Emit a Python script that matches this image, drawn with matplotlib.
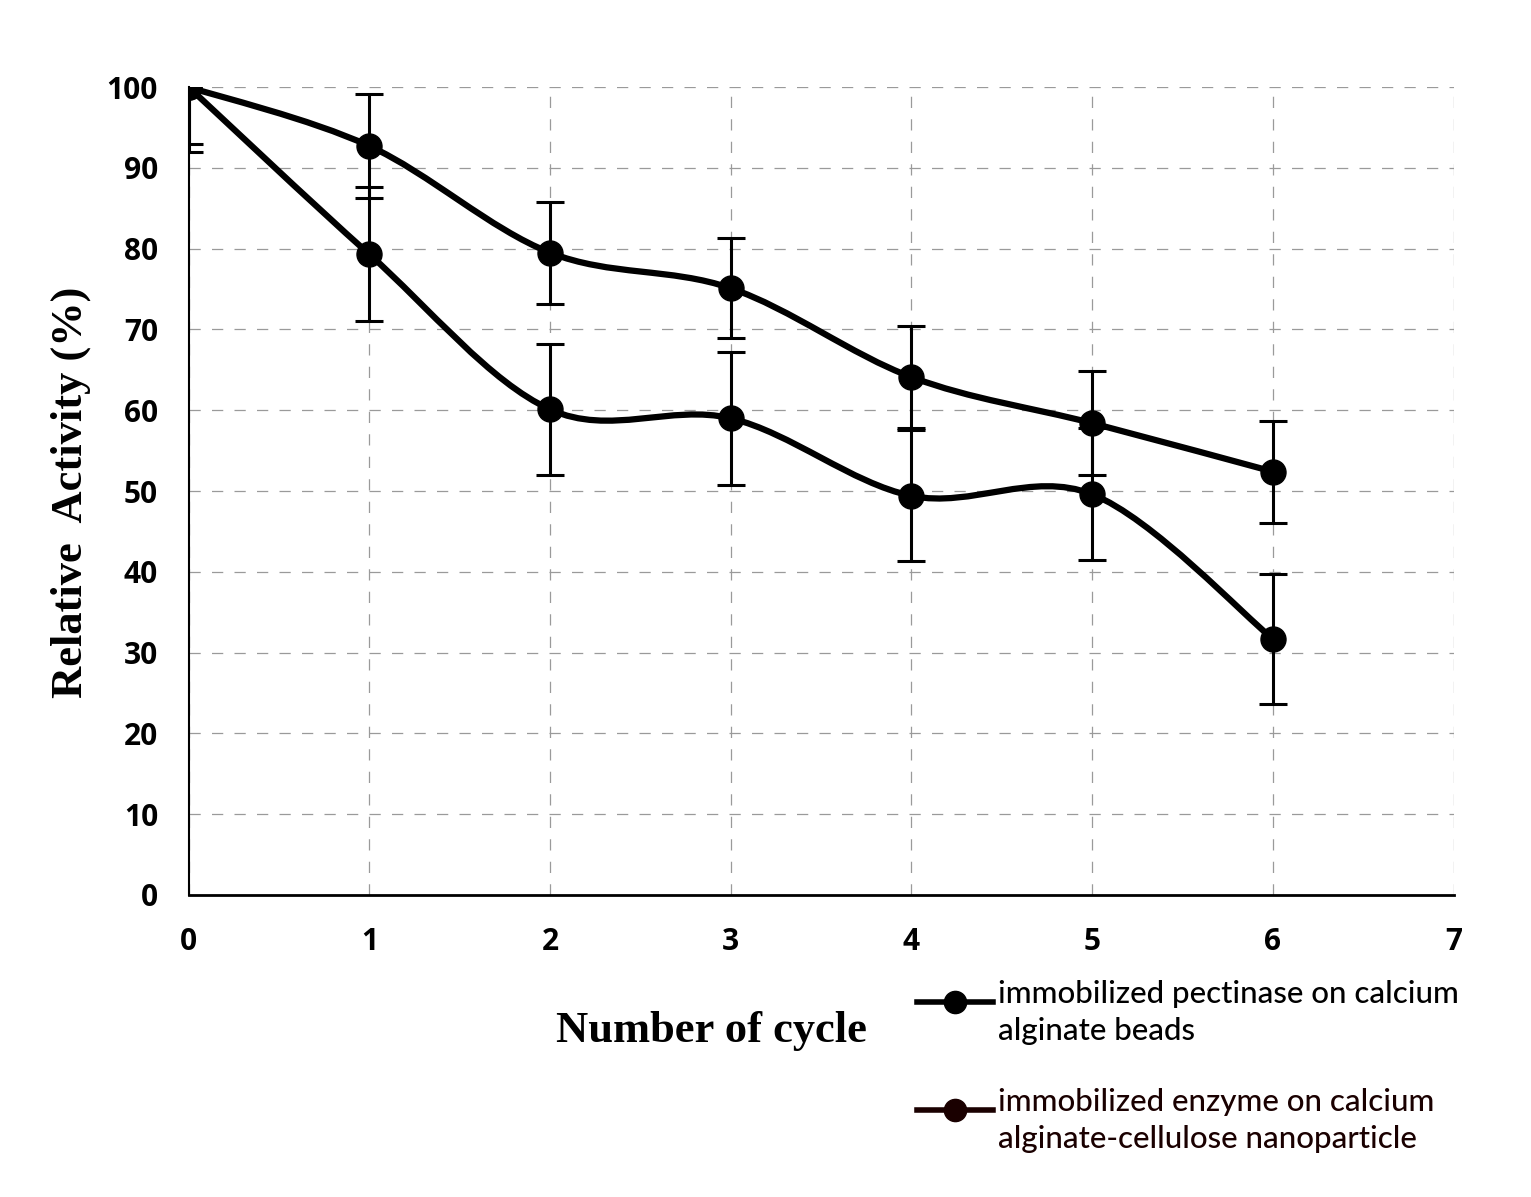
import numpy as np
import matplotlib.pyplot as plt
from matplotlib.path import Path
from matplotlib.patches import PathPatch
from matplotlib.lines import Line2D

# данные
cycles = [0, 1, 2, 3, 4, 5, 6]
beads = [100, 92.7, 79.5, 75.1, 64.1, 58.4, 52.4]
beads_err = [7.0, 6.4, 6.3, 6.2, 6.3, 6.4, 6.3]
nano = [100, 79.3, 60.1, 59.0, 49.4, 49.6, 31.7]
nano_err = [8.0, 8.3, 8.1, 8.2, 8.1, 8.2, 8.0]

labels = ['immobilized pectinase on calcium\nalginate beads',
          'immobilized enzyme on calcium\nalginate-cellulose nanoparticle']
legend_colors = ['black', '#1a0000']


# сглаженная линия как в Excel (кривые Безье через точки)
def smooth_path(xs, ys):
    xs = np.asarray(xs, float)
    ys = np.asarray(ys, float)
    verts = [(xs[0], ys[0])]
    codes = [Path.MOVETO]
    n = len(xs)
    for i in range(n - 1):
        p0 = np.array([xs[max(i - 1, 0)], ys[max(i - 1, 0)]])
        p1 = np.array([xs[i], ys[i]])
        p2 = np.array([xs[i + 1], ys[i + 1]])
        p3 = np.array([xs[min(i + 2, n - 1)], ys[min(i + 2, n - 1)]])
        c1 = p1 + (p2 - p0) / 6
        c2 = p2 - (p3 - p1) / 6
        verts += [tuple(c1), tuple(c2), tuple(p2)]
        codes += [Path.CURVE4] * 3
    return Path(verts, codes)


fig = plt.figure(figsize=(15.31, 11.97), dpi=100)
ax = fig.add_axes([0.1232, 0.2523, 0.8262, 0.675])

for ys, err in [(beads, beads_err), (nano, nano_err)]:
    ax.errorbar(cycles, ys, yerr=err, fmt='none', ecolor='black',
                elinewidth=2.2, capsize=10, capthick=2.2, zorder=3)
    ax.add_patch(PathPatch(smooth_path(cycles, ys), fill=False,
                           edgecolor='black', lw=4.5, zorder=4))
    ax.plot(cycles, ys, 'o', color='black', markersize=18, zorder=5)

ax.set_xlim(0, 7)
ax.set_ylim(0, 100)
ax.set_xticks(range(0, 8))
ax.set_yticks(range(0, 101, 10))
ax.grid(True, linestyle=(0, (9, 9)), color='#9a9a9a', lw=0.9)
ax.set_axisbelow(True)
for s in ['top', 'right']:
    ax.spines[s].set_visible(False)
ax.spines['bottom'].set_linewidth(2.0)
ax.spines['left'].set_linewidth(1.5)
ax.tick_params(length=0)
ax.tick_params(axis='x', pad=23)
ax.tick_params(axis='y', pad=22)
for lab in ax.get_xticklabels() + ax.get_yticklabels():
    lab.set_fontfamily('Open Sans')
    lab.set_fontweight('bold')
    lab.set_fontsize(21.5)

fig.text(0.046, 0.589, 'Relative  Activity (%)', rotation=90, ha='center',
         va='center', fontsize=32, fontweight='bold', family='Liberation Serif')
fig.text(0.465, 0.139, 'Number of cycle', ha='center', va='center',
         fontsize=32, fontweight='bold', family='Liberation Serif')

# легенда вручную: линия с маркером у первой строки подписи
W, H = 1531, 1197
for i, (lab, col) in enumerate(zip(labels, legend_colors)):
    y_top = 1002 + i * 108
    fy = 1 - y_top / H
    fig.add_artist(Line2D([917 / W, 993 / W], [fy, fy], color=col, lw=4,
                          transform=fig.transFigure))
    fig.add_artist(Line2D([955 / W], [fy], color=col, marker='o',
                          markersize=16, transform=fig.transFigure))
    fig.text(998 / W, 1 - (y_top - 22) / H, lab, ha='left', va='top',
             family='Lato', fontsize=22.5, fontweight='medium',
             linespacing=1.4, color=col)

fig.savefig('out.png', dpi=100, facecolor='white')
